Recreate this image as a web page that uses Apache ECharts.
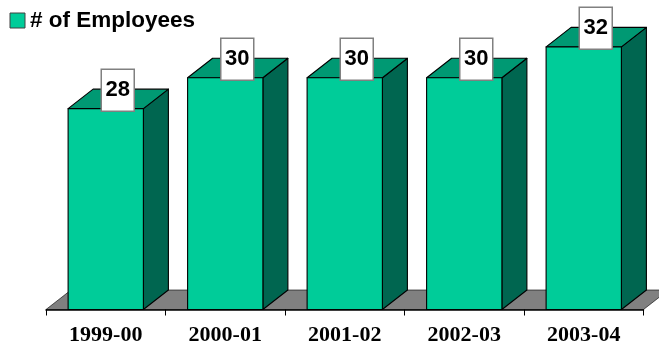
<!DOCTYPE html>
<html><head><meta charset="utf-8">
<style>html,body{margin:0;padding:0;background:#fff;overflow:hidden}#c{width:659px;height:345px}</style>
<script src="https://cdn.jsdelivr.net/npm/echarts@6/dist/echarts.min.js"></script>
</head><body><div id="c"></div>
<script>
const categories = ['1999-00','2000-01','2001-02','2002-03','2003-04'];
const employees = [28,30,30,30,32];
const seriesName = '# of Employees';
const FRONT='#00CC99', TOP='#009973', SIDE='#006650', FLOOR='#808080';
const DX=25, DY=19.5;
const chart = echarts.init(document.getElementById('c'),null,{renderer:'canvas'});
chart.setOption({
  animation:false,
  backgroundColor:'#fff',
  legend:{left:9.5,top:9,itemWidth:15,itemHeight:15,itemGap:5,padding:0,icon:'rect',
    data:[{name:seriesName,itemStyle:{color:FRONT,borderColor:'#404040',borderWidth:1}}],
    textStyle:{fontFamily:'Liberation Sans',fontWeight:'bold',fontSize:22.5,color:'#000'}},
  grid:{left:46,right:15.5,top:0.5,bottom:35.5,outerBoundsMode:'none'},
  xAxis:{type:'category',data:categories,boundaryGap:true,
    axisLine:{show:true,lineStyle:{color:'#000',width:1.5}},
    axisTick:{show:true,alignWithLabel:false,length:6,lineStyle:{color:'#000',width:1}},
    axisLabel:{margin:15,interval:0,fontFamily:'Liberation Serif',fontWeight:'bold',fontSize:22,color:'#000'},
    z:5},
  yAxis:{type:'value',min:15,max:35,show:false,splitLine:{show:false}},
  series:[
    {type:'custom',name:'floor',silent:true,z:1,clip:false,data:[0],encode:{x:0},
     renderItem(params,api){
       const g=params.coordSys, yb=g.y+g.height;
       return {type:'polygon',shape:{points:[[g.x,yb],[g.x+DX,yb-DY],[g.x+g.width+DX,yb-DY],[g.x+g.width,yb]]},
         style:{fill:FLOOR,stroke:'#000',lineWidth:0.6}};
     }},
    {type:'custom',name:seriesName,z:2,clip:false,itemStyle:{color:FRONT},
     data:employees.map((v,i)=>[i,v]),encode:{x:0,y:1},
     renderItem(params,api){
       const top=api.coord([api.value(0),api.value(1)]);
       const base=api.coord([api.value(0),15]);
       const band=api.size([1,0])[0], w=band*0.63;
       const x0=top[0]-w/2,x1=top[0]+w/2,yt=top[1],yb=base[1];
       const line={stroke:'#000',lineWidth:1.1,lineJoin:'round'};
       const cx=top[0]+DX/2-0.5, boxW=33, boxH=42, boxTop=yt-39.5;
       return {type:'group',children:[
         {type:'polygon',shape:{points:[[x1,yb],[x1+DX,yb-DY],[x1+DX,yt-DY],[x1,yt]]},style:{fill:SIDE,...line}},
         {type:'polygon',shape:{points:[[x0,yt],[x0+DX,yt-DY],[x1+DX,yt-DY],[x1,yt]]},style:{fill:TOP,...line}},
         {type:'rect',shape:{x:x0,y:yt,width:w,height:yb-yt},style:{fill:FRONT,...line}},
         {type:'rect',shape:{x:cx-boxW/2,y:boxTop,width:boxW,height:boxH},style:{fill:'#fff',stroke:'#808080',lineWidth:1.5}},
         {type:'text',x:cx,y:boxTop+boxH/2,style:{text:String(api.value(1)),align:'center',verticalAlign:'middle',
           fontFamily:'Liberation Sans',fontWeight:'bold',fontSize:22,fill:'#000'}}
       ]};
     }}
  ]
});
</script></body></html>
